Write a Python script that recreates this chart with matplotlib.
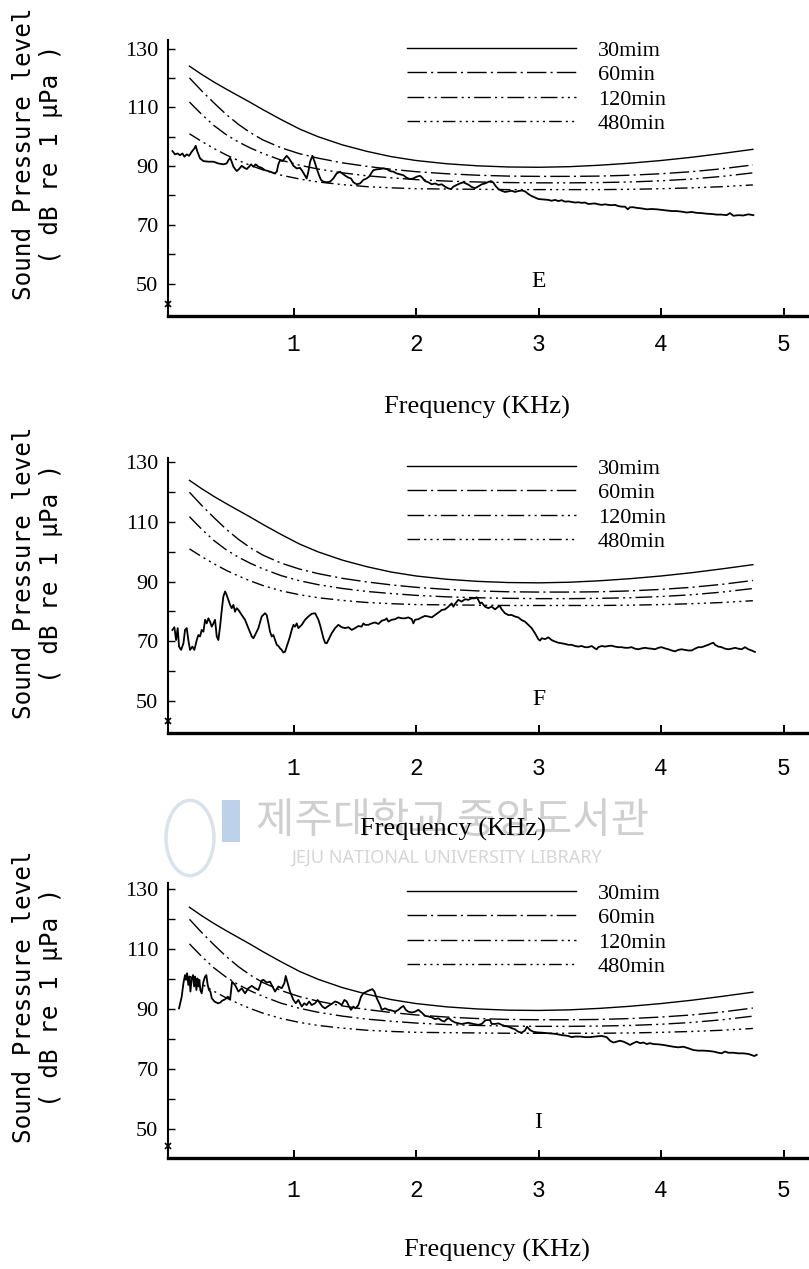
import matplotlib
matplotlib.use("Agg")
import matplotlib.pyplot as plt
from matplotlib.font_manager import FontProperties
from matplotlib.patches import Rectangle, Circle

# ---------------------------------------------------------------- data
thresh_freq = [0.15, 0.25, 0.35, 0.45, 0.55, 0.65, 0.75, 0.90, 1.05, 1.20, 1.40, 1.60, 1.80,
               2.00, 2.25, 2.50, 2.75, 3.00, 3.25, 3.50, 3.75, 4.00, 4.25, 4.50, 4.75]
thresh_30 = [124.0, 121.2, 118.6, 116.2, 113.9, 111.6, 109.2, 105.8, 102.6, 100.0, 97.2, 95.0, 93.2,
             91.9, 90.8, 90.1, 89.7, 89.6, 89.8, 90.3, 91.0, 91.9, 93.0, 94.3, 95.7]
thresh_60 = [120.0, 115.6, 111.5, 107.6, 104.2, 101.3, 98.9, 96.2, 94.2, 92.7, 91.1, 89.9, 88.9,
             88.1, 87.4, 86.9, 86.6, 86.5, 86.5, 86.6, 86.9, 87.4, 88.1, 89.1, 90.4]
thresh_120 = [111.8, 107.6, 103.8, 100.7, 98.2, 96.1, 94.3, 92.0, 90.3, 89.0, 87.7, 86.7, 86.0,
              85.4, 84.9, 84.6, 84.4, 84.3, 84.3, 84.4, 84.6, 85.0, 85.6, 86.5, 87.7]
thresh_480 = [101.0, 98.4, 96.0, 93.8, 91.9, 90.2, 88.7, 86.9, 85.6, 84.6, 83.7, 83.0, 82.6,
              82.3, 82.2, 82.1, 82.0, 82.0, 82.0, 82.0, 82.1, 82.3, 82.6, 83.0, 83.6]
exposure_labels = ["30mim", "60min", "120min", "480min"]

e_freq = [0.011, 0.033, 0.054, 0.073, 0.093, 0.109, 0.128, 0.147, 0.169, 0.190,
          0.201, 0.215, 0.237, 0.264, 0.305, 0.346, 0.386, 0.427, 0.454, 0.468,
          0.482, 0.495, 0.509, 0.536, 0.555, 0.577, 0.599, 0.618, 0.637, 0.653,
          0.672, 0.691, 0.713, 0.740, 0.767, 0.795, 0.822, 0.844, 0.863, 0.876,
          0.890, 0.909, 0.931, 0.944, 0.963, 0.980, 0.999, 1.026, 1.053, 1.072,
          1.094, 1.107, 1.121, 1.135, 1.154, 1.170, 1.189, 1.208, 1.224, 1.244,
          1.271, 1.298, 1.325, 1.352, 1.380, 1.407, 1.434, 1.453, 1.469, 1.488,
          1.516, 1.543, 1.570, 1.597, 1.616, 1.633, 1.652, 1.679, 1.706, 1.733,
          1.761, 1.788, 1.815, 1.842, 1.869, 1.897, 1.924, 1.951, 1.978, 2.005,
          2.033, 2.052, 2.073, 2.101, 2.128, 2.155, 2.182, 2.210, 2.237, 2.264,
          2.286, 2.305, 2.332, 2.359, 2.386,
          2.427, 2.454, 2.482, 2.509, 2.536, 2.563, 2.590, 2.612, 2.631, 2.650,
          2.672, 2.699, 2.727, 2.754, 2.781, 2.808, 2.835, 2.863, 2.890, 2.917,
          2.944, 2.971, 2.999, 3.026, 3.053, 3.080, 3.107, 3.135, 3.162, 3.189,
          3.216, 3.244, 3.271, 3.298, 3.325, 3.352, 3.380, 3.407, 3.434, 3.461,
          3.488, 3.516, 3.543, 3.570, 3.597, 3.624, 3.652, 3.680, 3.706, 3.728,
          3.747, 3.774, 3.801, 3.842, 3.883, 3.924, 3.965, 4.005, 4.046, 4.087,
          4.128, 4.169, 4.210, 4.250, 4.291, 4.332, 4.373, 4.414, 4.454, 4.495,
          4.536, 4.563, 4.591, 4.631, 4.672, 4.713, 4.754]
e_level = [95.1, 94.0, 94.3, 93.7, 94.3, 93.2, 94.0, 93.5, 94.9, 96.0,
           96.9, 94.9, 92.6, 91.7, 91.5, 91.5, 90.9, 90.6, 90.9, 92.0,
           92.8, 91.5, 89.8, 88.3, 89.0, 90.1, 89.4, 89.0, 89.8, 90.6,
           89.8, 90.6, 89.8, 89.4, 88.6, 88.3, 87.9, 87.5, 88.1, 90.6,
           92.0, 91.7, 92.8, 93.5, 92.6, 91.5, 90.1, 89.2, 89.4, 88.3,
           86.7, 85.8, 88.1, 91.5, 93.5, 91.7, 89.2, 86.9, 85.3, 84.7,
           84.5, 84.7, 85.8, 87.5, 88.1, 87.2, 86.4, 86.0, 85.8, 84.5,
           83.8, 84.1, 85.3, 85.8, 86.4, 87.5, 88.6, 88.9, 89.0, 89.2,
           89.0, 88.3, 88.1, 87.5, 87.2, 86.9, 86.0, 85.6, 85.8, 86.4,
           86.7, 86.0, 84.9, 84.5, 83.8, 84.1, 83.6, 83.8, 83.0, 82.4,
           82.2, 83.0, 83.6, 84.1, 84.5,
           83.7, 82.9, 82.5, 83.1, 83.8, 84.1, 84.6, 84.9, 84.4, 83.2,
           82.2, 81.6, 81.2, 81.4, 81.6, 81.2, 81.5, 81.7, 81.4, 80.5,
           79.8, 79.3, 78.8, 78.7, 78.6, 78.5, 78.2, 78.5, 78.1, 78.4,
           77.9, 78.0, 77.8, 77.6, 77.7, 77.5, 77.6, 77.1, 77.2, 77.3,
           77.0, 76.8, 77.0, 76.8, 76.7, 76.8, 76.4, 76.2, 76.2, 75.3,
           76.0, 76.0, 75.8, 75.6, 75.3, 75.4, 75.3, 75.1, 74.9, 74.7,
           74.7, 74.5, 74.2, 74.4, 74.1, 74.0, 73.8, 73.7, 73.5, 73.5,
           73.3, 74.0, 73.1, 73.3, 73.2, 73.6, 73.3]

f_freq = [0.011, 0.027, 0.041, 0.054, 0.065, 0.082, 0.101, 0.114, 0.128, 0.141,
          0.155, 0.174, 0.190, 0.210, 0.223, 0.237, 0.250, 0.264, 0.278, 0.291,
          0.305, 0.318, 0.332, 0.346, 0.359, 0.373, 0.386, 0.400, 0.414, 0.427,
          0.441, 0.454, 0.468, 0.482, 0.495, 0.509, 0.522, 0.536, 0.550, 0.577,
          0.604, 0.631, 0.659, 0.672, 0.686, 0.713, 0.740, 0.767, 0.781, 0.795,
          0.808, 0.822, 0.835, 0.849, 0.863, 0.876, 0.890, 0.903, 0.917, 0.931,
          0.944, 0.958, 0.971, 0.985, 0.999, 1.012, 1.026, 1.039, 1.067, 1.094,
          1.121, 1.148, 1.176, 1.189, 1.203, 1.216, 1.230, 1.244, 1.257, 1.271,
          1.284, 1.312, 1.339, 1.366, 1.393, 1.420, 1.448, 1.475, 1.502, 1.529,
          1.556, 1.570, 1.584, 1.611, 1.638, 1.665, 1.693, 1.720, 1.747, 1.760,
          1.774, 1.801, 1.829, 1.856, 1.883, 1.910, 1.937, 1.965, 1.978, 1.992,
          2.019, 2.046, 2.073, 2.101, 2.128, 2.155, 2.182, 2.210, 2.237, 2.264,
          2.278, 2.291, 2.305, 2.318,
          2.345, 2.372, 2.400, 2.427, 2.454, 2.481, 2.495, 2.508, 2.522, 2.536,
          2.563, 2.590, 2.617, 2.645, 2.672, 2.685, 2.699, 2.726, 2.753, 2.781,
          2.808, 2.835, 2.862, 2.889, 2.917, 2.944, 2.971, 2.998, 3.012, 3.026,
          3.053, 3.080, 3.107, 3.134, 3.162, 3.189, 3.216, 3.243, 3.270, 3.298,
          3.325, 3.352, 3.379, 3.406, 3.434, 3.461, 3.475, 3.488, 3.515, 3.543,
          3.570, 3.597, 3.624, 3.651, 3.679, 3.706, 3.733, 3.760, 3.787, 3.815,
          3.842, 3.869, 3.896, 3.923, 3.951, 3.978, 4.005, 4.032, 4.060, 4.087,
          4.114, 4.141, 4.168, 4.196, 4.223, 4.250, 4.277, 4.304, 4.332, 4.359,
          4.386, 4.413, 4.427, 4.441, 4.468, 4.495, 4.522, 4.549, 4.577, 4.604,
          4.631, 4.658, 4.686, 4.713, 4.740, 4.767]
f_level = [73.8, 74.7, 70.4, 74.4, 68.2, 67.1, 69.3, 73.8, 74.4, 70.4,
           67.1, 68.2, 67.1, 70.4, 72.1, 71.6, 73.8, 73.2, 77.2, 76.0,
           77.7, 76.6, 74.9, 76.0, 77.2, 71.6, 70.4, 74.9, 80.5, 85.0,
           86.7, 85.5, 83.9, 82.2, 81.1, 82.2, 79.9, 81.1, 80.5, 78.8,
           77.2, 74.4, 71.6, 71.0, 72.1, 74.4, 78.3, 79.4, 78.8, 76.0,
           73.2, 71.6, 72.1, 70.4, 68.8, 68.4, 67.6, 67.1, 66.2, 66.5,
           68.2, 69.9, 71.6, 73.8, 75.5, 74.9, 76.0, 74.4, 75.5, 77.2,
           78.3, 79.2, 79.4, 78.3, 77.2, 75.5, 73.2, 71.0, 69.5, 69.3,
           70.4, 72.7, 74.4, 75.5, 74.7, 74.4, 74.7, 73.8, 74.4, 75.1,
           74.9, 76.0, 75.5, 75.5, 76.0, 76.3, 75.8, 76.9, 77.2, 77.7,
           76.6, 77.2, 77.4, 78.0, 77.7, 77.7, 78.0, 77.4, 76.0, 77.2,
           77.4, 78.0, 78.5, 78.3, 78.0, 78.8, 79.6, 80.5, 80.7, 81.6,
           82.2, 82.7, 81.6, 82.5,
           83.9, 83.3, 84.1, 83.9, 84.4, 84.4, 84.75, 83.9, 82.7, 83.0,
           81.6, 81.1, 81.6, 80.7, 81.6, 81.8, 80.7, 79.4, 78.8, 78.8,
           78.3, 78.0, 77.1, 76.6, 75.5, 74.4, 72.7, 70.7, 70.2, 71.0,
           70.7, 71.3, 70.4, 69.9, 69.5, 69.3, 69.1, 68.8, 68.8, 68.4,
           68.2, 68.4, 68.0, 68.0, 68.4, 67.6, 67.3, 68.0, 68.4, 68.2,
           68.4, 68.5, 68.2, 68.0, 68.0, 67.8, 67.8, 68.0, 67.5, 67.3,
           67.6, 67.8, 67.6, 67.5, 67.3, 67.8, 68.0, 67.6, 67.3, 66.9,
           66.6, 67.1, 67.3, 67.1, 66.9, 66.9, 67.5, 68.0, 68.0, 68.4,
           68.8, 69.3, 69.5, 68.8, 68.2, 68.0, 67.5, 67.3, 67.5, 67.8,
           67.5, 67.3, 68.0, 67.3, 66.9, 66.4]

i_freq = [0.065, 0.087, 0.101, 0.114, 0.122, 0.131, 0.141, 0.150, 0.158, 0.169,
          0.180, 0.188, 0.196, 0.207, 0.215, 0.223, 0.231, 0.239, 0.250, 0.264,
          0.278, 0.288, 0.299, 0.310, 0.321, 0.332, 0.354, 0.381, 0.400, 0.419,
          0.441, 0.463, 0.482, 0.498, 0.522, 0.550, 0.577, 0.604, 0.631, 0.659,
          0.686, 0.713, 0.740, 0.754, 0.781, 0.808, 0.822, 0.849, 0.876, 0.903,
          0.925, 0.936, 0.952, 0.971, 0.999, 1.018, 1.039, 1.067, 1.088, 1.107,
          1.127, 1.148, 1.176, 1.197, 1.216, 1.235, 1.257, 1.284, 1.312, 1.339,
          1.366, 1.393, 1.415, 1.434, 1.453, 1.469, 1.488, 1.507, 1.529, 1.551,
          1.570, 1.597, 1.624, 1.644, 1.660, 1.679, 1.706, 1.720, 1.747, 1.774,
          1.801, 1.829, 1.856, 1.878, 1.897, 1.916, 1.937, 1.965, 1.992, 2.019,
          2.046, 2.073, 2.101, 2.128, 2.155, 2.182, 2.210, 2.231, 2.250, 2.269,
          2.291, 2.318, 2.346, 2.373, 2.400,
          2.427, 2.468, 2.509, 2.536, 2.563, 2.577, 2.604, 2.617, 2.645, 2.672,
          2.699, 2.726, 2.753, 2.781, 2.808, 2.835, 2.862, 2.889, 2.906, 2.930,
          2.958, 2.985, 3.026, 3.080, 3.135, 3.189, 3.243, 3.271, 3.298, 3.339,
          3.380, 3.420, 3.461, 3.516, 3.556, 3.584, 3.611, 3.638, 3.665, 3.693,
          3.720, 3.747, 3.774, 3.801, 3.829, 3.856, 3.883, 3.910, 3.937, 3.978,
          4.019, 4.060, 4.101, 4.141, 4.182, 4.223, 4.264, 4.305, 4.346, 4.386,
          4.427, 4.468, 4.495, 4.522, 4.549, 4.590, 4.631, 4.672, 4.713, 4.740,
          4.762, 4.781]
i_level = [90.3, 94.2, 98.7, 101.4, 99.8, 102.0, 98.1, 100.9, 95.9, 100.3,
           101.4, 97.6, 100.9, 96.4, 100.3, 97.6, 99.8, 96.4, 95.3, 99.2,
           100.9, 101.4, 98.1, 96.4, 95.9, 93.7, 92.6, 92.0, 92.2, 92.9,
           93.3, 94.2, 93.3, 99.2, 98.1, 95.9, 97.0, 95.3, 97.0, 97.8,
           97.0, 96.4, 99.6, 99.8, 98.9, 99.2, 98.1, 95.9, 97.6, 97.0,
           98.7, 101.1, 98.7, 95.9, 93.1, 92.0, 93.1, 90.9, 92.0, 91.4,
           92.6, 91.4, 92.0, 93.1, 92.0, 90.9, 90.3, 91.1, 91.8, 92.6,
           92.2, 91.4, 93.1, 92.6, 90.9, 89.8, 90.9, 90.3, 91.4, 94.2,
           95.3, 95.9, 96.4, 96.7, 95.9, 93.7, 91.4, 89.8, 90.3, 89.8,
           89.6, 89.2, 89.8, 90.6, 91.1, 89.8, 89.2, 88.9, 89.2, 89.8,
           88.9, 87.8, 87.6, 87.3, 86.7, 87.0, 86.2, 85.9, 86.7, 87.0,
           86.2, 85.6, 85.3, 85.1, 85.3,
           85.5, 85.1, 84.8, 85.1, 86.2, 86.4, 86.4, 85.1, 85.1, 85.3,
           84.8, 84.4, 84.2, 83.7, 83.3, 82.5, 82.2, 82.9, 84.2, 83.1,
           82.5, 82.3, 82.2, 82.0, 81.8, 81.4, 81.1, 80.7, 80.9, 80.9,
           80.7, 80.7, 80.9, 81.1, 80.7, 79.5, 78.9, 79.2, 79.5, 79.2,
           78.7, 78.1, 78.7, 79.2, 78.7, 78.9, 78.4, 78.7, 78.4, 78.3,
           78.1, 77.8, 77.5, 77.3, 77.5, 77.0, 76.4, 76.2, 76.2, 76.1,
           75.9, 75.5, 75.3, 75.9, 75.5, 75.5, 75.3, 75.3, 75.1, 74.7,
           74.4, 74.8]

# ---------------------------------------------------------------- figure
W, H = 809, 1269
fig = plt.figure(figsize=(W / 100, H / 100), dpi=100)
fig.patch.set_facecolor("white")


def fx(px):
    return px / W


def fy(py):
    return 1 - py / H


serif = "Liberation Serif"
mono = "DejaVu Sans Mono"

# library watermark sitting between the second and third panels
fig.text(fx(453), fy(822), "제주대학교 중앙도서관", ha="center", va="center",
         fontsize=30, color="#cfcfcf", family=["Noto Sans CJK KR", "DejaVu Sans"], zorder=0)
fig.text(fx(447), fy(858), "JEJU NATIONAL UNIVERSITY LIBRARY", ha="center", va="center",
         fontsize=13, color="#d6d6d6", family="Noto Sans", zorder=0)
fig.patches.append(Rectangle((fx(222), fy(842)), fx(18), 42 / H, transform=fig.transFigure,
                             facecolor="#bcd2ea", edgecolor="none", zorder=0))
fig.patches.append(Circle((fx(190), fy(838)), 24 / W, transform=fig.transFigure,
                          facecolor="none", edgecolor="#d9e3ec", lw=2.5, zorder=0))

line_styles = ["-", (0, (14, 3, 1.5, 3)), (0, (12, 3, 1.5, 3, 1.5, 3)),
               (0, (9, 3, 1.5, 3, 1.5, 3, 1.5, 3))]
threshold_sets = [thresh_30, thresh_60, thresh_120, thresh_480]

panels = [
    dict(letter="E", freq=e_freq, level=e_level, top=40, bottom=316, ylim=(39.0, 132.9),
         xpad=12, xlab=(477, 407), ylab_y=154, letter_y=50.6),
    dict(letter="F", freq=f_freq, level=f_level, top=458, bottom=733, ylim=(39.2, 131.5),
         xpad=17, xlab=(453, 829), ylab_y=573, letter_y=50.6),
    dict(letter="I", freq=i_freq, level=i_level, top=883, bottom=1158, ylim=(40.4, 132.1),
         xpad=15, xlab=(497, 1250), ylab_y=997, letter_y=52.4),
]

for p in panels:
    ax = fig.add_axes([fx(168), fy(p["bottom"]), 640 / W, (p["bottom"] - p["top"]) / H])
    ax.set_facecolor("none")
    ax.set_xlim(-0.025, 5.2)
    ax.set_ylim(*p["ylim"])

    handles = []
    for vals, ls in zip(threshold_sets, line_styles):
        ln, = ax.plot(thresh_freq, vals, color="black", lw=1.0, ls=ls, zorder=2)
        handles.append(ln)
    ax.plot(p["freq"], p["level"], color="black", lw=1.3, zorder=3)

    for side in ("top", "right"):
        ax.spines[side].set_visible(False)
    ax.spines["left"].set_linewidth(1.5)
    ax.spines["bottom"].set_linewidth(2.4)

    ax.set_yticks([50, 70, 90, 110, 130])
    ax.set_yticks([60, 80, 100, 120], minor=True)
    ax.set_xticks([1, 2, 3, 4, 5])
    ax.tick_params(axis="y", which="both", direction="in", length=5, width=1.0,
                   labelsize=16, pad=7, labelfontfamily=serif)
    ax.tick_params(axis="x", direction="in", length=6, width=1.4,
                   labelsize=16.5, pad=p["xpad"], labelfontfamily="Liberation Mono")

    # small axis-break mark near the foot of the level axis
    ax.plot([0], [0.045], marker="x", ms=4, mew=1.2, color="black",
            transform=ax.transAxes, clip_on=False)

    ax.text(3.0, p["letter_y"], p["letter"], ha="center", va="center",
            fontsize=17, family=serif)

    ax.legend(handles, exposure_labels, loc="upper left", bbox_to_anchor=(0.373, 1.0),
              frameon=False, handlelength=7.6, handletextpad=1.0, labelspacing=0.18,
              borderpad=0, borderaxespad=0,
              prop=FontProperties(family=serif, size=16))

    fig.text(fx(24), fy(p["ylab_y"]), "Sound Pressure level", rotation=90,
             ha="center", va="center", fontsize=17.5, family=mono)
    fig.text(fx(51), fy(p["ylab_y"]), "( dB re 1 µPa )", rotation=90,
             ha="center", va="center", fontsize=17.5, family=mono)
    fig.text(fx(p["xlab"][0]), fy(p["xlab"][1]), "Frequency (KHz)", ha="center",
             va="center", fontsize=19, family=serif, zorder=5)

fig.savefig("out.png", dpi=100, facecolor="white")
